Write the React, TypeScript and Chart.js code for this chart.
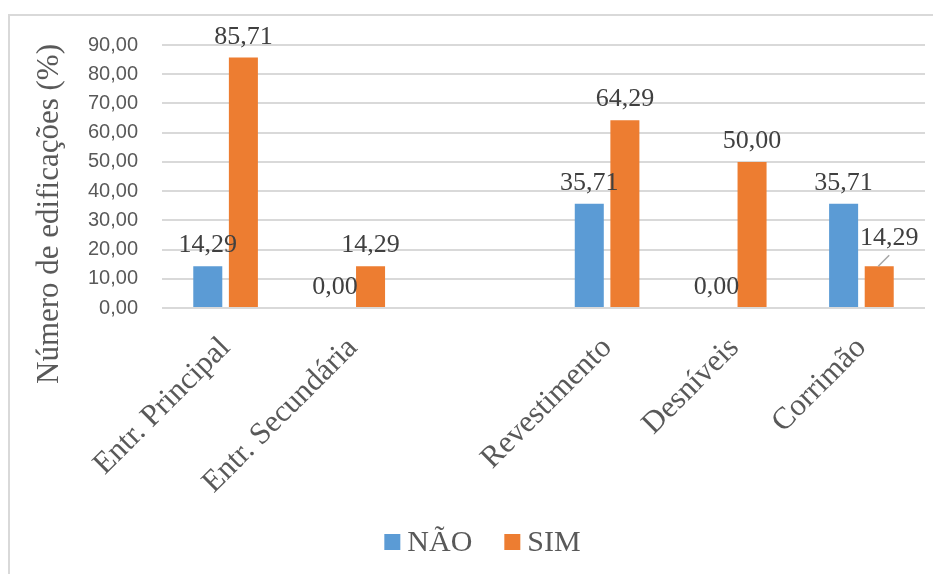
import React, { useEffect, useRef } from "react";
import { Chart, registerables } from "chart.js";

Chart.register(...registerables);

const categories = ["Entr. Principal", "Entr. Secundária", "", "Revestimento", "Desníveis", "Corrimão"];
const naoValues: (number | null)[] = [14.29, 0, null, 35.71, 0, 35.71];
const simValues: (number | null)[] = [85.71, 14.29, null, 64.29, 50.0, 14.29];
const seriesNames = ["NÃO", "SIM"];
const seriesColors = ["#5B9BD5", "#ED7D31"];
const yMin = 0;
const yMax = 90;
const yStep = 10;
const yAxisTitle = "Número de edificações (%)";

const SERIF = "'Liberation Serif', 'Times New Roman', serif";
const SANS = "'Liberation Sans', Arial, sans-serif";
const TEXT = "#595959";
const LABEL = "#404040";

const fmt = (v: number) => v.toFixed(2).replace(".", ",");

const framePlugin = {
  id: "frame",
  beforeDraw(chart: any) {
    const { ctx, width, height } = chart;
    ctx.save();
    ctx.strokeStyle = "#d9d9d9";
    ctx.lineWidth = 2;
    ctx.beginPath();
    ctx.moveTo(1, height);
    ctx.lineTo(1, 7);
    ctx.lineTo(width, 7);
    ctx.stroke();
    ctx.restore();
  },
};

const yTitlePlugin = {
  id: "yTitle",
  afterDraw(chart: any) {
    const { ctx } = chart;
    ctx.save();
    ctx.translate(42, 206);
    ctx.rotate(-Math.PI / 2);
    ctx.font = `31px ${SERIF}`;
    ctx.fillStyle = TEXT;
    ctx.textAlign = "center";
    ctx.textBaseline = "middle";
    ctx.fillText(yAxisTitle, 0, 0);
    ctx.restore();
  },
};

const dataLabelPlugin = {
  id: "dataLabels",
  afterDatasetsDraw(chart: any) {
    const { ctx } = chart;
    ctx.save();
    ctx.font = `26px ${SERIF}`;
    ctx.fillStyle = LABEL;
    ctx.textAlign = "center";
    ctx.textBaseline = "alphabetic";
    chart.data.datasets.forEach((ds: any, di: number) => {
      const meta = chart.getDatasetMeta(di);
      meta.data.forEach((bar: any, i: number) => {
        const v = ds.data[i];
        if (v === null || v === undefined) return;
        let x = bar.x;
        let y = bar.y - 14;
        // overlapping label moved aside with a leader line (as in the source)
        if (di === 1 && i === categories.length - 1) {
          ctx.strokeStyle = "#a6a6a6";
          ctx.lineWidth = 1.5;
          ctx.beginPath();
          ctx.moveTo(bar.x - 1, bar.y);
          ctx.lineTo(bar.x + 10, bar.y - 11);
          ctx.stroke();
          x = bar.x + 10;
          y = bar.y - 21;
        }
        ctx.fillText(fmt(v), x, y);
      });
    });
    ctx.restore();
  },
};

const legendPlugin = {
  id: "customLegend",
  afterDraw(chart: any) {
    const { ctx, width } = chart;
    ctx.save();
    ctx.font = `30px ${SERIF}`;
    ctx.textBaseline = "middle";
    ctx.textAlign = "left";
    const box = 16;
    const gapText = 7;
    const gapItem = 32;
    const widths = seriesNames.map((n) => ctx.measureText(n).width);
    const total = widths.reduce((a, w) => a + box + gapText + w, 0) + gapItem * (seriesNames.length - 1);
    let x = width / 2 + 12 - total / 2;
    const cy = 534;
    seriesNames.forEach((n, i) => {
      ctx.fillStyle = seriesColors[i];
      ctx.fillRect(x, cy - box / 2, box, box);
      x += box + gapText;
      ctx.fillStyle = TEXT;
      ctx.fillText(n, x, cy + 1);
      x += widths[i] + gapItem;
    });
    ctx.restore();
  },
};

export default function App() {
  const ref = useRef<HTMLCanvasElement | null>(null);

  useEffect(() => {
    if (!ref.current) return;
    const chart = new Chart(ref.current, {
      type: "bar",
      data: {
        labels: categories,
        datasets: [
          {
            label: seriesNames[0],
            data: naoValues,
            backgroundColor: seriesColors[0],
            categoryPercentage: 0.56,
            barPercentage: 0.815,
          },
          {
            label: seriesNames[1],
            data: simValues,
            backgroundColor: seriesColors[1],
            categoryPercentage: 0.56,
            barPercentage: 0.815,
          },
        ],
      },
      options: {
        animation: false,
        responsive: true,
        maintainAspectRatio: false,
        layout: { padding: { top: 37, right: 8, left: 0, bottom: 0 } },
        plugins: {
          legend: { display: false },
          tooltip: { enabled: false },
          title: { display: false },
        },
        scales: {
          x: {
            grid: { display: false },
            border: { display: false },
            ticks: {
              font: { family: SERIF, size: 31 },
              color: TEXT,
              minRotation: 45,
              maxRotation: 45,
              autoSkip: false,
              padding: 14,
            },
            afterFit: (s: any) => {
              s.height = 266;
            },
          },
          y: {
            min: yMin,
            max: yMax,
            grid: { color: "#d9d9d9", lineWidth: 2, drawTicks: false },
            border: { display: false },
            ticks: {
              stepSize: yStep,
              font: { family: SANS, size: 20 },
              color: TEXT,
              padding: 24,
              callback: (v: any) => fmt(Number(v)),
            },
            afterFit: (s: any) => {
              s.width = 154;
            },
          },
        },
      },
      plugins: [framePlugin, yTitlePlugin, dataLabelPlugin, legendPlugin],
    });
    return () => chart.destroy();
  }, []);

  return (
    <div style={{ width: 925, height: 566, position: "relative" }}>
      <canvas ref={ref} />
    </div>
  );
}
